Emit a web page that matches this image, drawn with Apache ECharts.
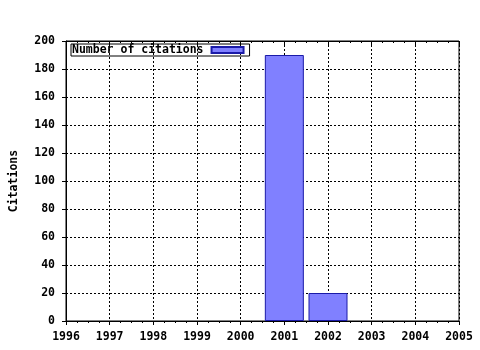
<!DOCTYPE html>
<html><head><meta charset="utf-8">
<script src="https://cdn.jsdelivr.net/npm/echarts@6/dist/echarts.min.js"></script>
<style>html,body{margin:0;padding:0;background:#fff}#c{width:480px;height:350px}</style>
</head><body><div id="c"></div>
<script>
var years = [2001, 2002];
var citations = [190, 20];
var seriesName = 'Number of citations';
var yAxisName = 'Citations';

var font = 'DejaVu Sans Mono';
var chart = echarts.init(document.getElementById('c'), null, {renderer: 'canvas'});
var split = {show: true, lineStyle: {color: '#000', type: [2, 2], width: 1}};
chart.setOption({
  animation: false,
  backgroundColor: '#fff',
  grid: {left: 64, right: 21, top: 41, bottom: 29, show: true, borderColor: '#000', borderWidth: 1},
  legend: {
    show: true, left: 71, top: 44, itemWidth: 32, itemHeight: 6, itemGap: 0,
    padding: [0, 5, 0, 1], borderColor: '#000', borderWidth: 1, borderRadius: 0,
    align: 'right',
    textStyle: {fontFamily: font, fontWeight: 'bold', fontSize: 11.5, color: '#000', padding: [1, 3, 0, 0]},
    icon: 'rect',
    data: [seriesName]
  },
  xAxis: [{
    type: 'value', min: 1996, max: 2005, interval: 1, position: 'bottom',
    axisLine: {show: true, lineStyle: {color: '#000'}},
    axisTick: {show: true, length: 4, lineStyle: {color: '#000'}},
    minorTick: {show: true, splitNumber: 4, length: 2, lineStyle: {color: '#000'}},
    axisLabel: {color: '#000', fontFamily: font, fontWeight: 'bold', fontSize: 11.5, margin: 10,
      formatter: function (v) { return String(v); }},
    splitLine: split
  }, {
    type: 'value', min: 1996, max: 2005, interval: 1, position: 'top',
    axisLine: {show: true, lineStyle: {color: '#000'}},
    axisTick: {show: true, inside: true, length: 4, lineStyle: {color: '#000'}},
    minorTick: {show: true, splitNumber: 4, length: 2, lineStyle: {color: '#000'}},
    axisLabel: {show: false}, splitLine: {show: false}
  }],
  yAxis: {
    type: 'value', min: 0, max: 200, interval: 20,
    name: yAxisName, nameLocation: 'middle', nameGap: 46, nameRotate: 90,
    nameTextStyle: {color: '#000', fontFamily: font, fontWeight: 'bold', fontSize: 11.5},
    axisLine: {show: true, lineStyle: {color: '#000'}},
    axisTick: {show: true, length: 4, lineStyle: {color: '#000'}},
    axisLabel: {color: '#000', fontFamily: font, fontWeight: 'bold', fontSize: 11.5, margin: 11},
    splitLine: split
  },
  series: [{
    name: seriesName, type: 'bar', barWidth: 39,
    data: years.map(function (y, i) { return [y, citations[i]]; }),
    itemStyle: {color: '#8080ff', borderColor: '#1a1aa8', borderWidth: 1}
  }]
});
</script></body></html>
